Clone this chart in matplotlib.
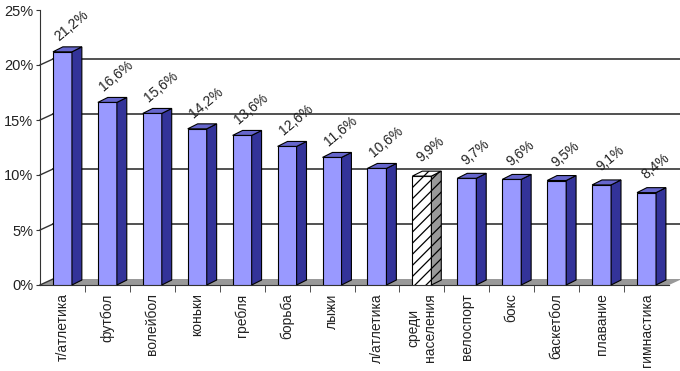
import matplotlib.pyplot as plt
from matplotlib.patches import Polygon
import numpy as np

plt.rcParams['font.family'] = ['Liberation Sans', 'DejaVu Sans']
plt.rcParams['hatch.linewidth'] = 0.9

# данные
sports = ['т/атлетика', 'футбол', 'волейбол', 'коньки', 'гребля', 'борьба', 'лыжи',
          'л/атлетика', 'среди\nнаселения', 'велоспорт', 'бокс', 'баскетбол',
          'плавание', 'гимнастика']
values = [21.2, 16.6, 15.6, 14.2, 13.6, 12.6, 11.6, 10.6, 9.9, 9.7, 9.6, 9.5, 9.1, 8.4]
value_labels = ['21,2%', '16,6%', '15,6%', '14,2%', '13,6%', '12,6%', '11,6%',
                '10,6%', '9,9%', '9,7%', '9,6%', '9,5%', '9,1%', '8,4%']
yticks = [0, 5, 10, 15, 20, 25]
ytick_labels = ['0%', '5%', '10%', '15%', '20%', '25%']
highlight = 8  # "среди населения"

front = '#9999ff'
side = '#333399'
top = '#6666cc'
line_c = '#333333'

fig = plt.figure(figsize=(6.8, 3.71), dpi=100)
ax = fig.add_axes([40 / 680, 86 / 371, 629 / 680, 275 / 371])
n = len(sports)
x = np.arange(n)
ax.set_xlim(-0.5, n - 0.5)
ax.set_ylim(0, 25)

# смещения "глубины" стенки и столбцов
wdx, wdy = 0.29, 0.545
bdx, bdy = 0.22, 0.45
w = 0.423

# пол
ax.add_patch(Polygon([(-0.5, 0), (n - 0.5, 0), (n - 0.5 + wdx, wdy), (-0.5 + wdx, wdy)],
                     closed=True, facecolor='#999999', edgecolor='none', clip_on=False, zorder=1))

# линии сетки на задней стенке
for v in yticks[1:-1]:
    ax.plot([-0.5 + wdx, n - 0.5 + wdx], [v + wdy, v + wdy], color=line_c, lw=1.2,
            clip_on=False, zorder=1)
for v in yticks[:-1]:
    ax.plot([-0.5, -0.5 + wdx], [v, v + wdy], color=line_c, lw=1.0, clip_on=False, zorder=1)

# столбцы
for i, v in enumerate(values):
    if i == highlight:
        fc, sc, tc, h = 'white', '#999999', 'white', '///'
    else:
        fc, sc, tc, h = front, side, top, None
    r = x[i] + w / 2
    l = x[i] - w / 2
    ax.bar(x[i], v, width=w, color=fc, edgecolor='black', lw=0.8, hatch=h, zorder=3)
    ax.add_patch(Polygon([(r, 0), (r + bdx, bdy), (r + bdx, v + bdy), (r, v)], closed=True,
                         facecolor=sc, edgecolor='black', lw=0.8, hatch=h, zorder=3, clip_on=False))
    ax.add_patch(Polygon([(l, v), (r, v), (r + bdx, v + bdy), (l + bdx, v + bdy)], closed=True,
                         facecolor=tc, edgecolor='black', lw=0.8, hatch=h, zorder=3, clip_on=False))
    ax.annotate(value_labels[i], (x[i], v), xytext=(6.5, 19), textcoords='offset points',
                rotation=40, ha='center', va='center', fontsize=10, color='#222222')

# оси
for s in ['top', 'right']:
    ax.spines[s].set_visible(False)
ax.spines['left'].set_color(line_c)
ax.spines['bottom'].set_color(line_c)
ax.set_yticks(yticks)
ax.set_yticklabels(ytick_labels, fontsize=10.5, color='#222222')
ax.tick_params(axis='y', length=3, color=line_c, pad=2)
ax.set_xticks(x)
ax.set_xticklabels(sports, rotation=90, fontsize=10, color='#222222',
                   va='top', ha='center', multialignment='center')
ax.tick_params(axis='x', which='major', length=0, pad=6)
ax.set_xticks(x[:-1] + 0.5, minor=True)
ax.tick_params(axis='x', which='minor', length=5, color=line_c)
ax.set_facecolor('none')

fig.savefig('out.png', dpi=100)
